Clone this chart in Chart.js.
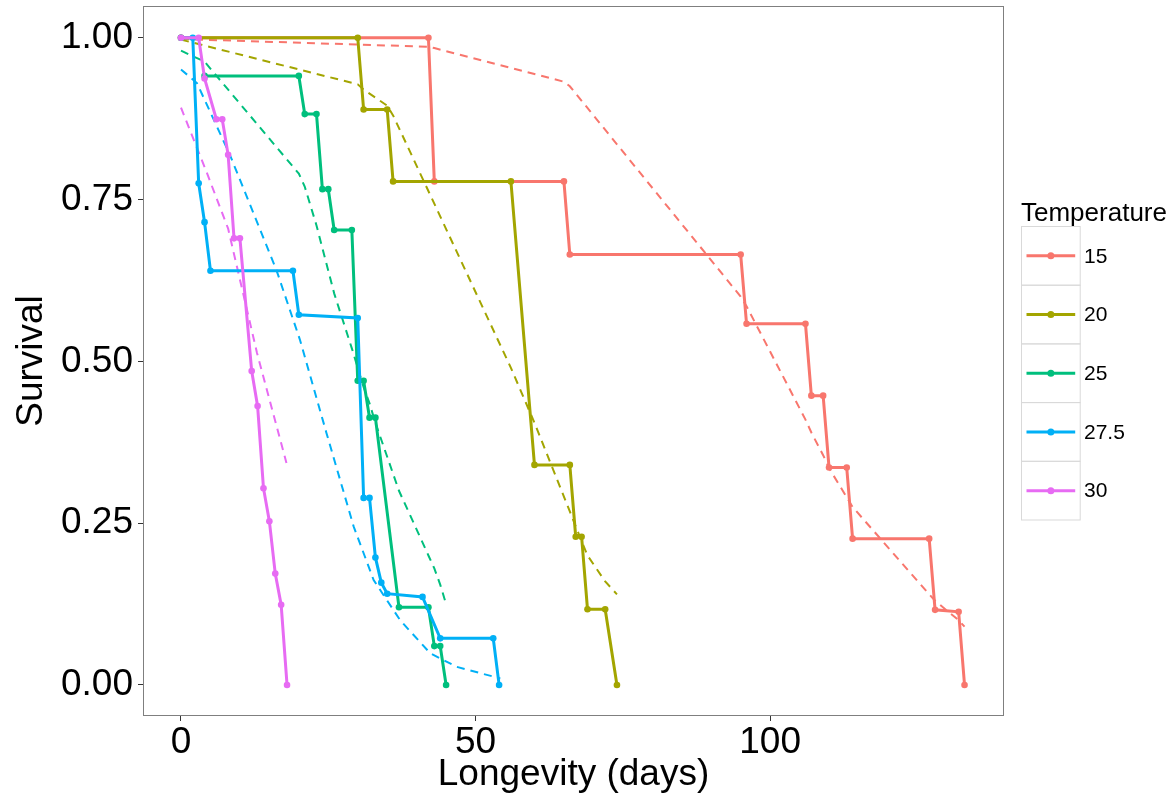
<!DOCTYPE html>
<html lang="en">
<head>
    <meta charset="UTF-8" />
    <title>Survival by temperature</title>
    <script src="https://cdn.jsdelivr.net/npm/chart.js"></script>
    <style>
        body { margin: 0; background: #fff; }
    </style>
</head>
<body>
    <canvas id="survivalChart" width="1176" height="797"></canvas>
    <script>
        // observed survival per temperature
        const temps = ['15', '20', '25', '27.5', '30'];
        const colors = ['#F8766D', '#A3A500', '#00BF7D', '#00B0F6', '#E76BF3'];

        const days15 = [0, 42, 43, 65, 66, 95, 96, 106, 107, 109, 110, 113, 114, 127, 128, 132, 133];
        const surv15 = [1, 1, 0.778, 0.778, 0.665, 0.665, 0.558, 0.558, 0.447, 0.447, 0.336, 0.336, 0.226, 0.226, 0.116, 0.113, 0];

        const days20 = [0, 30, 31, 35, 36, 56, 60, 66, 67, 68, 69, 72, 74];
        const surv20 = [1, 1, 0.889, 0.889, 0.778, 0.778, 0.340, 0.340, 0.229, 0.229, 0.117, 0.117, 0];

        const days25 = [4, 20, 21, 23, 24, 25, 26, 29, 30, 31, 32, 33, 37, 42, 43, 44, 45];
        const surv25 = [0.941, 0.941, 0.882, 0.882, 0.766, 0.766, 0.703, 0.703, 0.470, 0.470, 0.413, 0.413, 0.120, 0.120, 0.060, 0.060, 0];

        const days275 = [0, 2, 3, 4, 5, 19, 20, 30, 31, 32, 33, 34, 35, 41, 44, 53, 54];
        const surv275 = [1, 1, 0.775, 0.715, 0.640, 0.640, 0.572, 0.567, 0.289, 0.289, 0.197, 0.158, 0.141, 0.136, 0.072, 0.072, 0];

        const days30 = [0, 3, 4, 6, 7, 8, 9, 10, 12, 13, 14, 15, 16, 17, 18];
        const surv30 = [1, 1, 0.937, 0.874, 0.874, 0.819, 0.690, 0.690, 0.485, 0.431, 0.304, 0.253, 0.172, 0.124, 0];

        // fitted curves (dashed)
        const fitDays15 = [0, 42, 43, 65, 66, 95, 96, 106, 107, 109, 110, 113, 114, 127, 128, 132, 133];
        const fit15 = [0.998, 0.986, 0.984, 0.932, 0.925, 0.600, 0.585, 0.410, 0.390, 0.355, 0.335, 0.290, 0.275, 0.140, 0.130, 0.100, 0.090];

        const fitDays20 = [0, 30, 31, 35, 36, 56, 60, 66, 67, 68, 69, 72, 74];
        const fit20 = [0.997, 0.928, 0.920, 0.895, 0.880, 0.490, 0.405, 0.268, 0.245, 0.222, 0.200, 0.160, 0.140];

        const fitDays25 = [0, 4, 20, 21, 23, 24, 25, 26, 29, 30, 31, 32, 33, 37, 42, 43, 44, 45];
        const fit25 = [0.980, 0.963, 0.790, 0.770, 0.710, 0.675, 0.640, 0.605, 0.520, 0.490, 0.460, 0.435, 0.405, 0.300, 0.200, 0.180, 0.155, 0.125];

        const fitDays275 = [0, 2.7, 8.3, 16.2, 20.2, 24.7, 29.3, 32.7, 37.2, 42.3, 46.8, 54.2];
        const fit275 = [0.951, 0.930, 0.819, 0.641, 0.533, 0.389, 0.245, 0.162, 0.100, 0.049, 0.028, 0.010];

        const fitDays30 = [0, 4.4, 8, 9.5, 12.9, 17.9];
        const fit30 = [0.892, 0.791, 0.705, 0.646, 0.513, 0.343];

        const yTicks = [0, 0.25, 0.5, 0.75, 1];
        const xTicks = [0, 50, 100];

        const observed = [[days15, surv15], [days20, surv20], [days25, surv25], [days275, surv275], [days30, surv30]];
        const fitted = [[fitDays15, fit15], [fitDays20, fit20], [fitDays25, fit25], [fitDays275, fit275], [fitDays30, fit30]];

        const toPoints = (xs, ys) => xs.map((x, i) => ({ x: x, y: ys[i] }));

        const datasets = [];
        fitted.forEach(([xs, ys], i) => {
            datasets.push({
                label: temps[i] + ' fit',
                data: toPoints(xs, ys),
                showLine: true,
                borderColor: colors[i],
                borderWidth: 2,
                borderDash: [8, 6],
                pointRadius: 0,
                fill: false,
                order: 20 - i
            });
        });
        observed.forEach(([xs, ys], i) => {
            datasets.push({
                label: temps[i],
                data: toPoints(xs, ys),
                showLine: true,
                borderColor: colors[i],
                backgroundColor: colors[i],
                borderWidth: 3,
                pointRadius: 3.3,
                pointBorderWidth: 0,
                fill: false,
                order: 10 - i
            });
        });

        const font = "'Liberation Sans', Arial, sans-serif";

        // panel border and ggplot style legend
        const frameAndLegend = {
            id: 'frameAndLegend',
            afterDraw(chart) {
                const ctx = chart.ctx;
                const a = chart.chartArea;
                ctx.save();
                ctx.strokeStyle = '#7f7f7f';
                ctx.lineWidth = 1;
                ctx.strokeRect(a.left + 0.5, a.top + 0.5, a.right - a.left - 1, a.bottom - a.top - 1);

                const lx = 1021.5, ly = 226.5, size = 58.7;
                ctx.fillStyle = '#000';
                ctx.font = '26px ' + font;
                ctx.textBaseline = 'alphabetic';
                ctx.textAlign = 'left';
                ctx.fillText('Temperature', 1021, 221);
                ctx.font = '21px ' + font;
                temps.forEach((t, i) => {
                    const top = ly + i * size;
                    const cy = top + size / 2;
                    ctx.strokeStyle = '#d9d9d9';
                    ctx.lineWidth = 1;
                    ctx.strokeRect(lx, top, size, size);
                    ctx.strokeStyle = colors[i];
                    ctx.lineWidth = 3;
                    ctx.beginPath();
                    ctx.moveTo(lx + 5, cy);
                    ctx.lineTo(lx + size - 5, cy);
                    ctx.stroke();
                    ctx.fillStyle = colors[i];
                    ctx.beginPath();
                    ctx.arc(lx + size / 2, cy, 3.5, 0, Math.PI * 2);
                    ctx.fill();
                    ctx.fillStyle = '#000';
                    ctx.textBaseline = 'middle';
                    ctx.fillText(t, 1084, cy + 1);
                });
                ctx.restore();
            }
        };

        new Chart(document.getElementById('survivalChart'), {
            type: 'scatter',
            data: { datasets: datasets },
            plugins: [frameAndLegend],
            options: {
                responsive: false,
                animation: false,
                layout: { padding: { top: 6, right: 172, left: 0, bottom: 0 } },
                plugins: {
                    legend: { display: false },
                    tooltip: { enabled: false }
                },
                scales: {
                    x: {
                        type: 'linear',
                        min: -6.45,
                        max: 139.7,
                        afterFit: s => { s.height = 81; s.paddingLeft = 0; s.paddingRight = 0; },
                        afterBuildTicks: s => { s.ticks = xTicks.map(v => ({ value: v })); },
                        grid: { drawOnChartArea: false, drawTicks: true, tickLength: 5, color: '#333' },
                        border: { display: false },
                        ticks: {
                            color: '#000',
                            padding: 0,
                            font: { family: font, size: 37 },
                            callback: v => String(v)
                        },
                        title: {
                            display: true,
                            text: 'Longevity (days)',
                            color: '#000',
                            font: { family: font, size: 37 },
                            padding: { top: 0, bottom: 0 }
                        }
                    },
                    y: {
                        type: 'linear',
                        min: -0.048,
                        max: 1.049,
                        afterFit: s => { s.width = 143; s.paddingTop = 0; s.paddingBottom = 0; },
                        afterBuildTicks: s => { s.ticks = yTicks.map(v => ({ value: v })); },
                        grid: { drawOnChartArea: false, drawTicks: true, tickLength: 5, color: '#333' },
                        border: { display: false },
                        ticks: {
                            color: '#000',
                            padding: 5,
                            font: { family: font, size: 37 },
                            callback: v => v.toFixed(2)
                        },
                        title: {
                            display: true,
                            text: 'Survival',
                            color: '#000',
                            font: { family: font, size: 37 },
                            padding: { top: 10, bottom: 0 }
                        }
                    }
                }
            }
        });
    </script>
</body>
</html>
